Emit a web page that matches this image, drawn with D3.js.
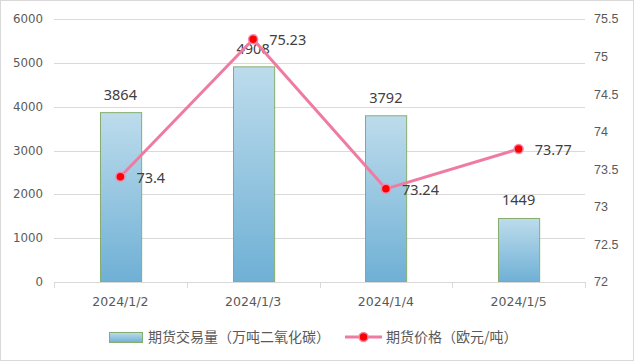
<!DOCTYPE html>
<html>
<head>
<meta charset="utf-8">
<script src="https://cdn.jsdelivr.net/npm/d3@7"></script>
<style>
  body { margin: 0; background: #fff; }
  svg { display: block; }
</style>
</head>
<body>
<div id="chart"></div>
<script>
const categories = ["2024/1/2", "2024/1/3", "2024/1/4", "2024/1/5"];
const volume = [3864, 4908, 3792, 1449];
const price = [73.4, 75.23, 73.24, 73.77];
const leftTicks = [0, 1000, 2000, 3000, 4000, 5000, 6000];
const rightTicks = [72, 72.5, 73, 73.5, 74, 74.5, 75, 75.5];
const volumeName = "期货交易量（万吨二氧化碳）";
const priceName = "期货价格（欧元/吨）";

const width = 635, height = 362;
const margin = { top: 19, right: 50, bottom: 80, left: 54 };

const svg = d3.select("#chart").append("svg")
    .attr("width", width)
    .attr("height", height);

const defs = svg.append("defs");
const grad = defs.append("linearGradient")
    .attr("id", "barGrad")
    .attr("x1", 0).attr("y1", 0).attr("x2", 0).attr("y2", 1);
grad.append("stop").attr("offset", "0%").attr("stop-color", "#bddcec");
grad.append("stop").attr("offset", "100%").attr("stop-color", "#6fb0d5");

// outer border
svg.append("rect")
    .attr("x", 0.5).attr("y", 0.5)
    .attr("width", width - 2).attr("height", height - 2)
    .attr("fill", "#fff")
    .attr("stroke", "#d9d9d9");

const x = d3.scaleBand()
    .domain(categories)
    .range([margin.left, width - margin.right])
    .paddingInner(0.69)
    .paddingOuter(0.345);

const band = d3.scaleBand()
    .domain(categories)
    .range([margin.left, width - margin.right]);

const yL = d3.scaleLinear().domain([0, 6000]).range([282, margin.top]);
const yR = d3.scaleLinear().domain([72, 75.5]).range([282, margin.top]);

// gridlines
svg.append("g")
    .selectAll("line")
    .data(leftTicks.slice(1))
    .enter().append("line")
    .attr("x1", margin.left).attr("x2", width - margin.right)
    .attr("y1", d => Math.round(yL(d)) + 0.5)
    .attr("y2", d => Math.round(yL(d)) + 0.5)
    .attr("stroke", "#d9d9d9");

// left axis labels
svg.append("g")
    .selectAll("text")
    .data(leftTicks)
    .enter().append("text")
    .attr("x", 43)
    .attr("y", d => yL(d))
    .attr("dy", "0.35em")
    .attr("text-anchor", "end")
    .attr("font-family", "DejaVu Sans")
    .attr("font-size", "11.8px")
    .attr("fill", "#595959")
    .text(d => d);

// right axis labels
svg.append("g")
    .selectAll("text")
    .data(rightTicks)
    .enter().append("text")
    .attr("x", 594)
    .attr("y", d => yR(d))
    .attr("dy", "0.35em")
    .attr("font-family", "Liberation Sans")
    .attr("font-size", "12.5px")
    .attr("fill", "#595959")
    .text(d => d);

// bars
svg.append("g")
    .selectAll("rect")
    .data(volume)
    .enter().append("rect")
    .attr("x", (d, i) => Math.round(x(categories[i])) + 0.5)
    .attr("y", d => yL(d))
    .attr("width", x.bandwidth())
    .attr("height", d => yL(0) - yL(d))
    .attr("fill", "url(#barGrad)")
    .attr("stroke", "#86ad6e")
    .attr("stroke-width", 1);

// category axis
const xAxis = svg.append("g");
xAxis.append("line")
    .attr("x1", margin.left).attr("x2", width - margin.right)
    .attr("y1", 282.5).attr("y2", 282.5)
    .attr("stroke", "#d9d9d9");
const bounds = categories.map(c => band(c)).concat([width - margin.right]);
xAxis.selectAll("line.tick")
    .data(bounds)
    .enter().append("line")
    .attr("class", "tick")
    .attr("x1", d => Math.round(d) + 0.5).attr("x2", d => Math.round(d) + 0.5)
    .attr("y1", 282).attr("y2", 288)
    .attr("stroke", "#d9d9d9");
xAxis.selectAll("text")
    .data(categories)
    .enter().append("text")
    .attr("x", d => band(d) + band.bandwidth() / 2)
    .attr("y", 302)
    .attr("dy", "0.35em")
    .attr("text-anchor", "middle")
    .attr("font-family", "DejaVu Sans")
    .attr("font-size", "12.5px")
    .attr("fill", "#595959")
    .text(d => d);

// bar labels
svg.append("g")
    .selectAll("text")
    .data(volume)
    .enter().append("text")
    .attr("x", (d, i) => band(categories[i]) + band.bandwidth() / 2)
    .attr("y", d => yL(d) - 13)
    .attr("text-anchor", "middle")
    .attr("font-family", "Noto Sans")
    .attr("font-size", "14.5px")
    .attr("fill", "#404040")
    .text(d => d);

// price line
const cx = i => band(categories[i]) + band.bandwidth() / 2;
const line = d3.line()
    .x((d, i) => cx(i))
    .y(d => yR(d));

svg.append("path")
    .datum(price)
    .attr("d", line)
    .attr("fill", "none")
    .attr("stroke", "#f07ba1")
    .attr("stroke-width", 3)
    .attr("stroke-linejoin", "round");

svg.append("g")
    .selectAll("circle")
    .data(price)
    .enter().append("circle")
    .attr("cx", (d, i) => cx(i))
    .attr("cy", d => yR(d))
    .attr("r", 4.5)
    .attr("fill", "#ff0000")
    .attr("stroke", "#f28aae")
    .attr("stroke-width", 1.5);

svg.append("g")
    .selectAll("text")
    .data(price)
    .enter().append("text")
    .attr("x", (d, i) => cx(i) + 16)
    .attr("y", d => yR(d) + 1)
    .attr("dy", "0.35em")
    .attr("font-family", "Noto Sans")
    .attr("font-size", "14.5px")
    .attr("fill", "#404040")
    .text(d => d);

// legend
const legend = svg.append("g");
legend.append("rect")
    .attr("x", 109.5).attr("y", 332.5)
    .attr("width", 33).attr("height", 10)
    .attr("fill", "url(#barGrad)")
    .attr("stroke", "#86ad6e");
legend.append("text")
    .attr("x", 148).attr("y", 337)
    .attr("dy", "0.35em")
    .attr("font-family", "Noto Sans CJK SC")
    .attr("font-size", "14px")
    .attr("fill", "#595959")
    .text(volumeName);
legend.append("line")
    .attr("x1", 345).attr("x2", 382)
    .attr("y1", 337).attr("y2", 337)
    .attr("stroke", "#f07ba1")
    .attr("stroke-width", 3);
legend.append("circle")
    .attr("cx", 363.5).attr("cy", 337)
    .attr("r", 4.5)
    .attr("fill", "#ff0000")
    .attr("stroke", "#f28aae")
    .attr("stroke-width", 1.5);
legend.append("text")
    .attr("x", 386).attr("y", 337)
    .attr("dy", "0.35em")
    .attr("font-family", "Noto Sans CJK SC")
    .attr("font-size", "14px")
    .attr("fill", "#595959")
    .text(priceName);
</script>
</body>
</html>
